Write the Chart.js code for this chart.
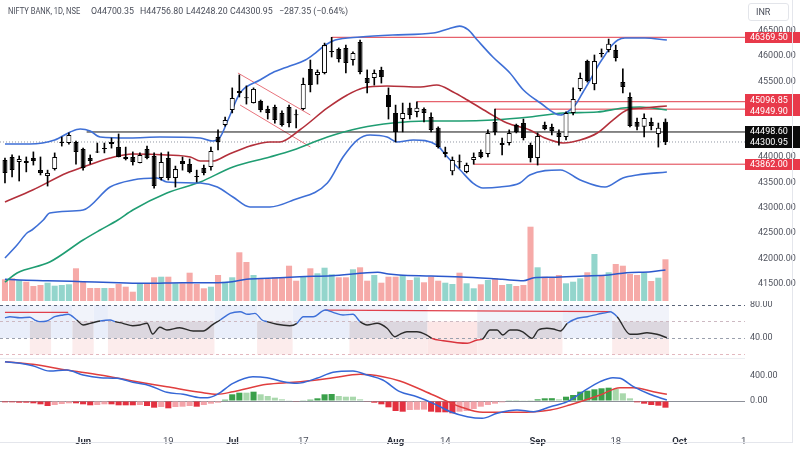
<!DOCTYPE html>
<html>
<head>
<meta charset="utf-8">
<title>NIFTY BANK, 1D</title>
<script src="https://cdn.jsdelivr.net/npm/chart.js@4.4.1/dist/chart.umd.min.js"></script>
<style>
    html, body { margin: 0; padding: 0; background: #fff; }
    body { width: 800px; height: 449px; position: relative; overflow: hidden; font-family: Roboto, "Liberation Sans", sans-serif; }
    canvas { position: absolute; left: 0; }
    #priceChart { top: 0; }
    #rsiChart { top: 301px; }
    #macdChart { top: 358px; }
    .legend span { position: absolute; top: 6px; font-size: 8.8px; line-height: 11px; color: #4a4e5a; white-space: nowrap; }
    .legend .sym { transform: scaleX(0.86); transform-origin: left center; }
    .ccy { position: absolute; left: 748px; top: 3px; width: 41px; height: 18px; box-sizing: border-box; border: 1px solid #e3e5ea; border-radius: 3px; background: #fff; font-size: 9px; line-height: 16px; color: #4a4e5a; padding-left: 7px; }
    .sep { position: absolute; left: 0; width: 745px; height: 1px; background: #eceef2; }
    .frame { position: absolute; left: 0; top: 0; width: 792px; height: 442px; border-right: 1px solid #e4e6ec; border-bottom: 1px solid #e4e6ec; pointer-events: none; }
</style>
</head>
<body>
<canvas id="priceChart" width="800" height="301"></canvas>
<canvas id="rsiChart" width="800" height="57"></canvas>
<canvas id="macdChart" width="800" height="91"></canvas>
<div class="sep" style="top:358px"></div>
<div class="legend">
    <span class="sym" style="left:8px">NIFTY BANK, 1D, NSE</span>
    <span style="left:91px">O44700.35</span>
    <span style="left:140px">H44756.80</span>
    <span style="left:186px">L44248.20</span>
    <span style="left:230px">C44300.95</span>
    <span style="left:279px">−287.35 (−0.64%)</span>
</div>
<div class="ccy">INR</div>
<div class="frame"></div>

<script>
// bottom axis (bar index -> label)
const xTickIdx = [11, 23, 32, 42, 55, 62, 75, 86, 95, 104];
const xTickLabels = ['Jun', '19', 'Jul', '17', 'Aug', '14', 'Sep', '18', 'Oct', '1'];
const monthLabels = ['Jun', 'Jul', 'Aug', 'Sep', 'Oct'];

// daily candles
const opens = [43945, 44005, 43905, 43925, 43985, 43745, 43630, 43765, 44280, 44280,
    44300, 44160, 43985, 44105, 44160, 44300, 44200, 44005, 44005, 43885,
    44160, 44025, 43590, 43985, 43590, 43925, 43865, 43630, 43785, 43805,
    44400, 44635, 44935, 45310, 45175, 45070, 45110, 44955, 44990, 44875,
    44990, 44840, 44955, 45745, 45625, 45665, 46080, 46140, 46160, 45920,
    46275, 45565, 45565, 45725, 45230, 44875, 44755, 44975, 44895, 44955,
    44795, 44580, 44065, 43725, 43910, 43710, 43945, 44105, 44065, 44695,
    44280, 44280, 44635, 44675, 44240, 43985, 44635, 44595, 44480, 44400,
    44875, 45350, 45900, 45445, 46060, 46120, 46120, 45485, 45190, 44695,
    44600, 44695, 44460, 44700.35];
const highs = [43985, 44045, 44025, 44005, 44105, 44005, 43745, 44085, 44400, 44480,
    44320, 44180, 44045, 44280, 44280, 44380, 44460, 44200, 44105, 44085,
    44220, 44085, 44085, 44105, 43825, 44005, 43965, 43745, 43845, 44200,
    44540, 44795, 45370, 45625, 45410, 45370, 45130, 45010, 45030, 44915,
    45030, 44935, 45565, 45920, 45725, 46255, 46369.5, 46160, 46215, 46080,
    46315, 45725, 45725, 45780, 45370, 45030, 45070, 45070, 45096.85, 44975,
    44875, 44600, 44200, 44005, 44045, 43885, 44085, 44145, 44540, 44949.9,
    44380, 44540, 44655, 44755, 44280, 44480, 44695, 44655, 44540, 44895,
    45370, 45665, 45920, 46020, 46140, 46335, 46215, 45745, 45270, 44775,
    44855, 44775, 44675, 44756.8];
const lows = [43490, 43610, 43530, 43710, 43845, 43650, 43430, 43745, 44220, 44260,
    43865, 43745, 43865, 44090, 44085, 44180, 44005, 43945, 43845, 43885,
    43965, 43390, 43550, 43550, 43410, 43745, 43690, 43510, 43650, 43745,
    44145, 44615, 44875, 45190, 45050, 45070, 44895, 44755, 44675, 44615,
    44600, 44580, 44935, 45290, 45445, 45645, 45980, 45880, 45665, 45820,
    45645, 45270, 45425, 45465, 44755, 44300, 44500, 44755, 44795, 44695,
    44500, 44180, 44005, 43650, 43785, 43690, 43862, 43985, 44005, 44440,
    44045, 44240, 44480, 44340, 43905, 43845, 44540, 44440, 44240, 44340,
    44835, 45310, 45485, 45330, 45980, 46080, 45900, 45270, 44600, 44540,
    44400, 44540, 44200, 44248.2];
const closes = [43690, 43745, 43965, 43885, 43925, 43690, 43690, 44005, 44300, 44440,
    44105, 43785, 43925, 44095, 44170, 44260, 44005, 43965, 43905, 44045,
    43985, 43430, 43905, 43590, 43765, 43865, 43710, 43610, 43690, 44125,
    44300, 44735, 45170, 45270, 45165, 45350, 44935, 44875, 44735, 44635,
    44675, 44830, 45445, 45425, 45685, 46215, 46100, 45940, 45860, 46060,
    45685, 45465, 45665, 45585, 44990, 44500, 44875, 44835, 44975, 44875,
    44540, 44200, 44105, 43945, 43900, 43845, 44005, 44005, 44480, 44500,
    44240, 44480, 44500, 44380, 43985, 44420, 44560, 44520, 44400, 44875,
    45150, 45565, 45505, 45900, 46040, 46240, 45960, 45385, 44615, 44600,
    44775, 44615, 44580, 44300.95];
const volumes = [217, 227, 210, 193, 150, 160, 183, 153, 160, 167,
    327, 193, 130, 130, 130, 130, 170, 143, 93, 170,
    177, 237, 243, 243, 177, 177, 283, 170, 127, 143,
    260, 193, 237, 487, 390, 260, 220, 220, 237, 237,
    353, 203, 243, 327, 277, 333, 267, 237, 237, 317,
    337, 203, 260, 183, 243, 243, 260, 210, 237, 187,
    243, 203, 183, 170, 283, 177, 127, 167, 210, 227,
    160, 170, 150, 160, 743, 337, 243, 237, 260, 177,
    193, 227, 287, 470, 260, 287, 370, 353, 270, 260,
    283, 200, 233, 417];
const volumeMA = [[0, 217], [2, 210], [6, 203], [11, 193], [16, 183], [20, 177], [25, 183], [30, 183],
    [32, 193], [34, 217], [37, 227], [41.5, 243], [46, 253], [51, 283], [52.5, 287], [54, 270],
    [55.5, 260], [60, 250], [65, 237], [70, 217], [73, 203], [74.5, 233], [77, 237], [81.5, 250],
    [85, 260], [87.5, 283], [91, 293], [93, 310]];

// Bollinger bands and 50 SMA, [bar index, price]
const bbUpper = [[0, 44261], [3.5, 44261], [7, 44340], [9.2, 44498], [10.6, 44557], [12, 44518],
    [13.4, 44399], [17.6, 44380], [21.8, 44399], [27.5, 44380], [29.2, 44320], [30.3, 44399],
    [31.4, 44735], [33.1, 45269], [35.9, 45526], [37.6, 45664], [40.1, 45802], [42.3, 45921],
    [43.7, 46059], [45.1, 46217], [46.5, 46316], [50, 46375], [54.6, 46415], [60.3, 46454],
    [62.5, 46540], [64, 46590], [65.2, 46520], [66.5, 46316], [68.7, 45980], [71.1, 45664],
    [73, 45328], [75.4, 45071], [78.2, 44834], [79.2, 44893], [80.3, 45032], [81.4, 45289],
    [82.4, 45526], [83.4, 45783], [84.5, 46020], [85.5, 46217], [86.3, 46316], [87.3, 46356],
    [90.1, 46356], [93.2, 46316]];
const bbMiddle = [[0, 43115], [3.9, 43352], [8.7, 43688], [11, 43807], [14.8, 43985], [18, 44063],
    [22.8, 44044], [26.1, 44004], [27.5, 43925], [29.3, 43925], [31.3, 44044], [34.5, 44222],
    [37.3, 44301], [38.7, 44301], [41.5, 44538], [45.4, 44973], [48.2, 45229], [50.4, 45368],
    [53.8, 45407], [58.5, 45387], [60.8, 45427], [63.1, 45289], [65.1, 45131], [67.9, 44893],
    [70.7, 44676], [73.9, 44538], [76, 44380], [78.6, 44281], [81, 44340], [83.4, 44478],
    [85.6, 44735], [87.6, 44933], [89.9, 44973], [93.2, 45012]];
const bbLower = [[0, 42008], [1.7, 42265], [3.1, 42502], [3.8, 42562], [5.4, 42759], [6.3, 42898],
    [11, 42957], [14.8, 43412], [18, 43550], [21.4, 43589], [22.8, 43510], [27.5, 43490],
    [29.9, 43411], [32.1, 43214], [34.5, 43016], [37.3, 43016], [40.6, 43155], [45.4, 43490],
    [47.6, 44004], [49.6, 44340], [51.4, 44439], [53.8, 44399], [55.2, 44301], [57.5, 44340],
    [60.8, 44241], [62.3, 44004], [64.1, 43747], [65.9, 43490], [67.3, 43392], [69.7, 43411],
    [72.5, 43490], [73.9, 43649], [78.2, 43747], [81, 43550], [84.5, 43411], [87, 43589],
    [89, 43649], [93.2, 43708]];
const sma50 = [[0, 41534], [1.7, 41712], [6.3, 41929], [11, 42364], [13.4, 42562], [15.9, 42759],
    [18, 42957], [22.8, 43293], [27.5, 43510], [32.1, 43807], [37.3, 44004], [40.6, 44143],
    [45.4, 44399], [50, 44577], [54.6, 44676], [59.4, 44716], [64.1, 44716], [68.7, 44735],
    [73.9, 44795], [78.6, 44874], [83.4, 44893], [87, 44973], [89.4, 44992], [93.2, 44933]];
const priceTicks = [41500, 42000, 42500, 43000, 43500, 44000, 44500, 45000, 45500, 46000, 46500];

// drawn levels
const levels = [46369.50, 45096.85, 44949.90, 43862.00];
const levelStart = [46, 58, 69, 66];
const pivotLevel = 44498.60;
const pivotStart = 11.5;
const lastClose = 44300.95;
const flagUpper = [[32.8, 45664], [43, 44834]];
const flagLower = [[33.1, 45032], [43, 44202]];

// RSI
const rsiPoints = [[0, 64.6], [0.7, 65.8], [2.1, 64.6], [3.5, 65.1], [4.2, 61.8], [4.9, 59.8],
    [5.9, 60.6], [7, 65.8], [8.2, 67.9], [8.9, 68.7], [10.1, 61.8], [11, 55.8], [12, 57.8],
    [13.4, 60.6], [14.8, 61.8], [15.5, 59.8], [16.6, 57.8], [18, 54.9], [19, 55.8], [20, 57.8],
    [20.8, 44.8], [21.8, 53], [22.8, 49.7], [24.6, 52.5], [26.5, 48.5], [27.9, 48.5], [29.3, 56.6],
    [30.3, 61.8], [31.7, 69.9], [33.1, 71.9], [34.2, 68.7], [35.2, 69.9], [36.2, 61.8], [36.9, 59.8],
    [38.3, 56.6], [40.1, 54.9], [41.1, 57.8], [42, 65.8], [43.4, 65.8], [45.1, 73.9], [46.2, 71.1],
    [47.6, 67.9], [49, 68.7], [50, 59.8], [51, 55.8], [52.4, 57.8], [53.8, 51.8], [54.9, 41.6],
    [55.6, 44.5], [56.6, 47.6], [58, 47.6], [59.4, 43.6], [60.1, 39.6], [61.7, 36.7], [65.1, 33.6],
    [66.5, 37.6], [67.2, 38.4], [68.3, 49.7], [69.3, 49.7], [70.1, 43.6], [71.1, 49.7], [72.1, 49.7],
    [73, 46.9], [74.2, 39.6], [75.1, 49.7], [76.3, 51.8], [77.2, 50.9], [78.2, 48.5], [79.2, 57.8],
    [80.6, 63.9], [82, 65.8], [83.4, 68.7], [84.8, 71.1], [85.2, 71.9], [86.2, 65.8], [88, 44.5],
    [89, 44.5], [90.4, 46.4], [91.8, 44.5], [93.2, 40.4]];
const rsiTrend1 = [[0, 71.1], [8.9, 71.1]];
const rsiTrend2 = [[45.1, 73.9], [85.2, 71.9]];
const rsiTicks = [20, 40, 60, 80];
const rsiZones = [[-0.7, 3.5, 'bull'], [3.5, 6.5, 'mid'], [6.5, 9.5, 'bull'], [9.5, 12.5, 'mid'],
    [12.5, 14.5, 'bull'], [14.5, 29.5, 'mid'], [29.5, 35.5, 'bull'], [35.5, 40.5, 'mid'],
    [40.5, 48.5, 'bull'], [48.5, 59.5, 'mid'], [59.5, 66.5, 'bear'], [66.5, 78.5, 'mid'],
    [78.5, 85.5, 'bull'], [85.5, 93.5, 'mid']];

// MACD
const macdLine = [[0, 629], [2.1, 603], [3.9, 565], [6.3, 480], [8.7, 496], [11, 416], [13.4, 373],
    [15.8, 363], [18, 299], [20.4, 245], [22.8, 139], [25.1, 107], [27.5, 53], [28.5, 53], [29.9, 107],
    [32.1, 283], [34.9, 389], [36.9, 373], [39.2, 309], [41.1, 283], [43.9, 363], [46.2, 459],
    [49, 480], [51, 416], [53.2, 336], [55.6, 149], [58, 69], [60.3, -37], [62.7, -171], [65.1, -251],
    [67.2, -277], [69.3, -197], [72.1, -144], [74.4, -171], [76.8, -91], [79.2, -11], [81.4, 149],
    [83.8, 309], [85.6, 373], [86.6, 363], [88.5, 229], [90.8, 107], [93.2, 16]];
const signalLine = [[0, 629], [3.9, 587], [8.7, 496], [13.4, 416], [18, 320], [22.8, 229], [27.5, 139],
    [29.9, 107], [32.1, 149], [36.9, 267], [40.6, 299], [43.9, 336], [46.2, 373], [50, 427],
    [53.2, 389], [55.6, 320], [60.3, 96], [64.1, -91], [67.3, -181], [72.1, -181], [76.8, -144],
    [79.5, -64], [83.8, 96], [86.6, 213], [88.5, 213], [91.3, 149], [93.2, 107]];
const macdHist = [-21, -21, -27, -27, -37, -53, -80, -64, -48, -37,
    -37, -53, -69, -64, -53, -53, -69, -69, -69, -64,
    -80, -107, -96, -117, -96, -91, -80, -91, -64, -43,
    -27, 21, 107, 133, 133, 149, 107, 80, 53, 27,
    11, -11, 5, 21, 43, 107, 112, 80, 69, 69,
    27, -5, -27, -53, -101, -160, -171, -144, -141, -138,
    -171, -181, -181, -197, -171, -160, -128, -91, -64, -43,
    -21, 5, 11, 11, 3, 27, 43, 45, 27, 69,
    96, 149, 165, 187, 203, 213, 192, 123, 43, -21,
    -43, -64, -75, -107];
const macdTicks = [0, 400];

// ---------------------------------------------------------------
const FONT = 'Roboto, "Liberation Sans", sans-serif';
const X_MIN = -0.7, X_MAX = 104.2;
const AXIS_W = 55;

const pts = arr => arr.map(([x, y]) => ({ x, y }));
const bars = closes.map((c, i) => i);
const isUp = closes.map((c, i) => c >= opens[i]);

function rightAxis(scale) {
    scale.width = AXIS_W;
    scale.paddingTop = 0;
    scale.paddingBottom = 0;
}

function hiddenX() {
    return { type: 'linear', min: X_MIN, max: X_MAX, offset: false, display: false };
}

function lineSet(data, color, width, order) {
    return {
        type: 'line', data: pts(data), borderColor: color, borderWidth: width,
        pointRadius: 0, fill: false, cubicInterpolationMode: 'monotone', order: order || 5
    };
}

const baseOptions = {
    responsive: false,
    animation: false,
    events: [],
    layout: { padding: 0 },
    plugins: { legend: { display: false }, tooltip: { enabled: false } }
};

// price tags drawn on the right axis
const tagPlugin = {
    id: 'priceTags',
    afterDraw(chart) {
        const y = chart.scales.y;
        const ctx = chart.ctx;
        const right = chart.chartArea.right;
        const h = 11;
        const tags = levels.map(v => ({ v, bg: '#e8394a' }))
            .concat([{ v: pivotLevel, bg: '#0b0b0b' }, { v: lastClose, bg: '#0b0b0b' }])
            .map(t => ({ ...t, py: y.getPixelForValue(t.v) }))
            .sort((a, b) => a.py - b.py);
        for (let i = 1; i < tags.length; i++) {
            const gap = tags[i].py - tags[i - 1].py;
            if (gap < h) {
                const mid = (tags[i].py + tags[i - 1].py) / 2;
                tags[i - 1].py = mid - h / 2;
                tags[i].py = mid + h / 2;
            }
        }
        ctx.save();
        ctx.font = '9px ' + FONT;
        ctx.textBaseline = 'middle';
        tags.forEach(t => {
            ctx.fillStyle = t.bg;
            ctx.fillRect(right, Math.round(t.py - h / 2), chart.width - right, h);
            ctx.fillStyle = '#fff';
            ctx.fillText(t.v.toFixed(2), right + 5, t.py + 0.5);
        });
        ctx.restore();
    }
};

// ---------------- price + volume ----------------
const levelSets = levels.map((v, i) => ({
    type: 'line', data: [{ x: levelStart[i], y: v }, { x: X_MAX, y: v }],
    borderColor: '#e03a48', borderWidth: 1, pointRadius: 0, order: 6
}));

new Chart(document.getElementById('priceChart'), {
    type: 'bar',
    data: {
        datasets: [
            {
                label: 'body', data: bars.map(i => ({ x: i, y: [opens[i], closes[i]] })),
                backgroundColor: isUp.map(u => u ? '#ffffff' : '#000000'),
                borderColor: '#000', borderWidth: 1, borderSkipped: false, minBarLength: 1,
                categoryPercentage: 0.9, barPercentage: 0.78, grouped: false, order: 1
            },
            {
                label: 'wick', data: bars.map(i => ({ x: i, y: [lows[i], highs[i]] })),
                backgroundColor: '#000', barThickness: 1, grouped: false, order: 2
            },
            lineSet(bbUpper, '#3e6fd6', 1.6),
            lineSet(bbLower, '#3e6fd6', 1.6),
            lineSet(bbMiddle, '#b3303b', 1.6),
            lineSet(sma50, '#1f9d72', 1.6),
            ...levelSets,
            {
                type: 'line', data: [{ x: pivotStart, y: pivotLevel }, { x: X_MAX, y: pivotLevel }],
                borderColor: '#111', borderWidth: 1, pointRadius: 0, order: 6
            },
            {
                type: 'line', data: [{ x: X_MIN, y: lastClose }, { x: X_MAX, y: lastClose }],
                borderColor: '#9096a2', borderWidth: 1, borderDash: [1, 2], pointRadius: 0, order: 7
            },
            Object.assign(lineSet(flagUpper, '#e8737c', 1, 6), { cubicInterpolationMode: 'default', tension: 0 }),
            Object.assign(lineSet(flagLower, '#e8737c', 1, 6), { cubicInterpolationMode: 'default', tension: 0 }),
            {
                label: 'volume', data: bars.map(i => ({ x: i, y: volumes[i] })), yAxisID: 'yv',
                backgroundColor: isUp.map(u => u ? '#93d5cc' : '#f6aaa8'),
                categoryPercentage: 0.9, barPercentage: 0.95, grouped: false, order: 20
            },
            Object.assign(lineSet(volumeMA, '#2b58cc', 1.5, 15), { yAxisID: 'yv' })
        ]
    },
    options: {
        ...baseOptions,
        scales: {
            x: hiddenX(),
            y: {
                position: 'right', min: 41158.8, max: 47106.6,
                grid: { display: false }, border: { display: false },
                afterBuildTicks: s => { s.ticks = priceTicks.map(v => ({ value: v })); },
                afterFit: rightAxis,
                ticks: { padding: 5, color: '#50535e', font: { family: FONT, size: 9 }, callback: v => v.toFixed(2) }
            },
            yv: { display: false, min: 0, max: 3010 }
        }
    },
    plugins: [tagPlugin]
});

// ---------------- RSI ----------------
const zoneFill = {
    bull: [[40, 80, '#e9eefa']],
    mid: [[60, 80, '#f1f3fa'], [40, 60, '#dcd7df'], [20, 40, '#fcecec']],
    bear: [[20, 60, '#fce6e6']]
};

const zonePlugin = {
    id: 'rsiZones',
    beforeDraw(chart) {
        const { x, y } = chart.scales;
        const ctx = chart.ctx;
        ctx.save();
        rsiZones.forEach(([a, b, kind]) => {
            const x0 = x.getPixelForValue(a), x1 = x.getPixelForValue(b);
            zoneFill[kind].forEach(([lo, hi, col]) => {
                const y0 = y.getPixelForValue(hi), y1 = y.getPixelForValue(lo);
                ctx.fillStyle = col;
                ctx.fillRect(x0, y0, x1 - x0, y1 - y0);
            });
        });
        ctx.restore();
    }
};

const rsiGridColor = { 80: '#5a6478', 60: '#cdb9c2', 40: '#9aa0ad', 20: '#e3b8bf' };

new Chart(document.getElementById('rsiChart'), {
    type: 'line',
    data: {
        datasets: [
            {
                data: pts(rsiPoints), borderWidth: 1.4, pointRadius: 0, cubicInterpolationMode: 'monotone',
                borderColor: '#2b2b2b',
                segment: {
                    borderColor: c => {
                        const v = (c.p0.parsed.y + c.p1.parsed.y) / 2;
                        return v > 60 ? '#3d6fd8' : (v < 40 ? '#d9343d' : '#2b2b2b');
                    }
                }
            },
            { data: pts(rsiTrend1), borderColor: '#e0404c', borderWidth: 1.2, pointRadius: 0 },
            { data: pts(rsiTrend2), borderColor: '#e0404c', borderWidth: 1.2, pointRadius: 0 }
        ]
    },
    options: {
        ...baseOptions,
        scales: {
            x: hiddenX(),
            y: {
                position: 'right', min: 15.76, max: 84.85,
                grid: { drawTicks: false, color: c => rsiGridColor[c.tick.value] || 'transparent' },
                border: { display: false, dash: [3, 3] },
                afterBuildTicks: s => { s.ticks = rsiTicks.map(v => ({ value: v })); },
                afterFit: rightAxis,
                ticks: {
                    padding: 5, color: '#50535e', font: { family: FONT, size: 9 },
                    callback: v => (v === 40 || v === 80) ? v.toFixed(2) : ''
                }
            }
        }
    },
    plugins: [zonePlugin]
});

// ---------------- MACD ----------------
const histColors = macdHist.map((h, i) => {
    const prev = i > 0 ? macdHist[i - 1] : h;
    if (h >= 0) return h > prev ? '#3aa04a' : '#a9d8ac';
    return h > prev ? '#f4a3a9' : '#e3303f';
});

new Chart(document.getElementById('macdChart'), {
    type: 'bar',
    data: {
        datasets: [
            lineSet(macdLine, '#3567d6', 1.5, 1),
            lineSet(signalLine, '#e03e3e', 1.5, 2),
            {
                data: bars.map(i => ({ x: i, y: macdHist[i] })), backgroundColor: histColors,
                categoryPercentage: 0.9, barPercentage: 0.95, grouped: false, order: 5
            }
        ]
    },
    options: {
        ...baseOptions,
        scales: {
            x: {
                type: 'linear', min: X_MIN, max: X_MAX, offset: false,
                grid: { display: false }, border: { display: false },
                afterBuildTicks: s => { s.ticks = xTickIdx.map(v => ({ value: v })); },
                afterFit: s => { s.height = 29; s.paddingLeft = 0; s.paddingRight = 0; },
                ticks: {
                    autoSkip: false, maxRotation: 0, padding: 8,
                    callback: (v, i) => xTickLabels[i],
                    font: c => ({
                        family: FONT, size: 9.5,
                        weight: c.tick && monthLabels.includes(c.tick.label) ? 'bold' : 'normal'
                    }),
                    color: c => c.tick && monthLabels.includes(c.tick.label) ? '#2a2e39' : '#4a4e5a'
                }
            },
            y: {
                position: 'right', min: -304, max: 688,
                grid: { drawTicks: false, color: c => c.tick.value === 0 ? '#8d9099' : 'transparent' },
                border: { display: false },
                afterBuildTicks: s => { s.ticks = macdTicks.map(v => ({ value: v })); },
                afterFit: rightAxis,
                ticks: { padding: 5, color: '#50535e', font: { family: FONT, size: 9 }, callback: v => v.toFixed(2) }
            }
        }
    }
});
</script>
</body>
</html>
